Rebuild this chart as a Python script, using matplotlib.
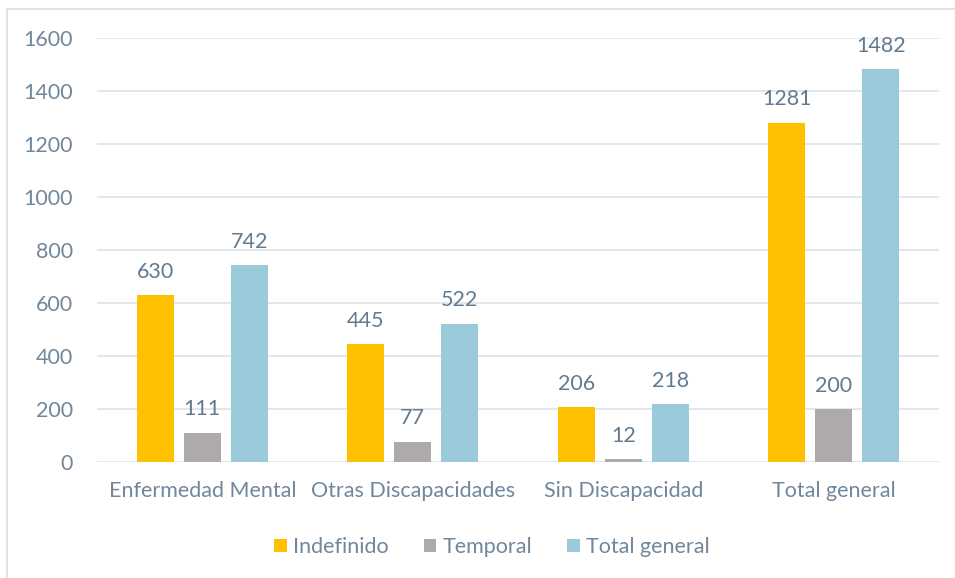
import numpy as np
import matplotlib.pyplot as plt
from matplotlib.patches import Rectangle

categories = ["Enfermedad Mental", "Otras Discapacidades", "Sin Discapacidad", "Total general"]
indefinido = [630, 445, 206, 1281]
temporal = [111, 77, 12, 200]
total_general = [742, 522, 218, 1482]

series = [("Indefinido", indefinido, "#FFC000"),
          ("Temporal", temporal, "#AEAAAA"),
          ("Total general", total_general, "#9BCBDB")]

plt.rcParams['font.family'] = ['Lato', 'DejaVu Sans']
tick_color = "#71879C"
label_color = "#627A90"
fs = 15.5

fig = plt.figure(figsize=(9.55, 5.78), dpi=100)
ax = fig.add_axes([97 / 955, 1 - 462 / 578, (939 - 97) / 955, (462 - 38) / 578])

x = np.arange(len(categories))
width = 0.176
offset = 0.223
for i, (name, vals, color) in enumerate(series):
    pos = x + (i - 1) * offset
    bars = ax.bar(pos, vals, width, color=color, label=name, zorder=3)
    for b, v in zip(bars, vals):
        ax.text(b.get_x() + b.get_width() / 2, v + 50, str(v), ha='center', va='bottom',
                fontsize=fs, color=label_color)

ax.set_xlim(-0.5, len(categories) - 0.5)
ax.set_ylim(0, 1600)
ax.set_yticks(range(0, 1601, 200))
ax.set_xticks(x)
ax.set_xticklabels(categories)
ax.yaxis.grid(True, color="#E1E5EA", linewidth=1.3, zorder=0)
ax.tick_params(length=0, labelsize=fs, colors=tick_color)
ax.tick_params(axis='y', pad=17.5)
ax.tick_params(axis='x', pad=14)
for s in ax.spines.values():
    s.set_visible(False)

ax.legend(loc='center', bbox_to_anchor=(492 / 955, 1 - 547 / 578),
          bbox_transform=fig.transFigure, ncol=3, frameon=False, fontsize=fs,
          handlelength=0.6, handleheight=0.6, handletextpad=0.3, columnspacing=1.6,
          labelcolor=tick_color)

fig.patches.append(Rectangle((7 / 955, -0.01), 1.0, 1 - 9 / 578 + 0.01, transform=fig.transFigure,
                             fill=False, edgecolor="#D9DDE2", linewidth=1.2))

plt.savefig("out.png", dpi=100)
